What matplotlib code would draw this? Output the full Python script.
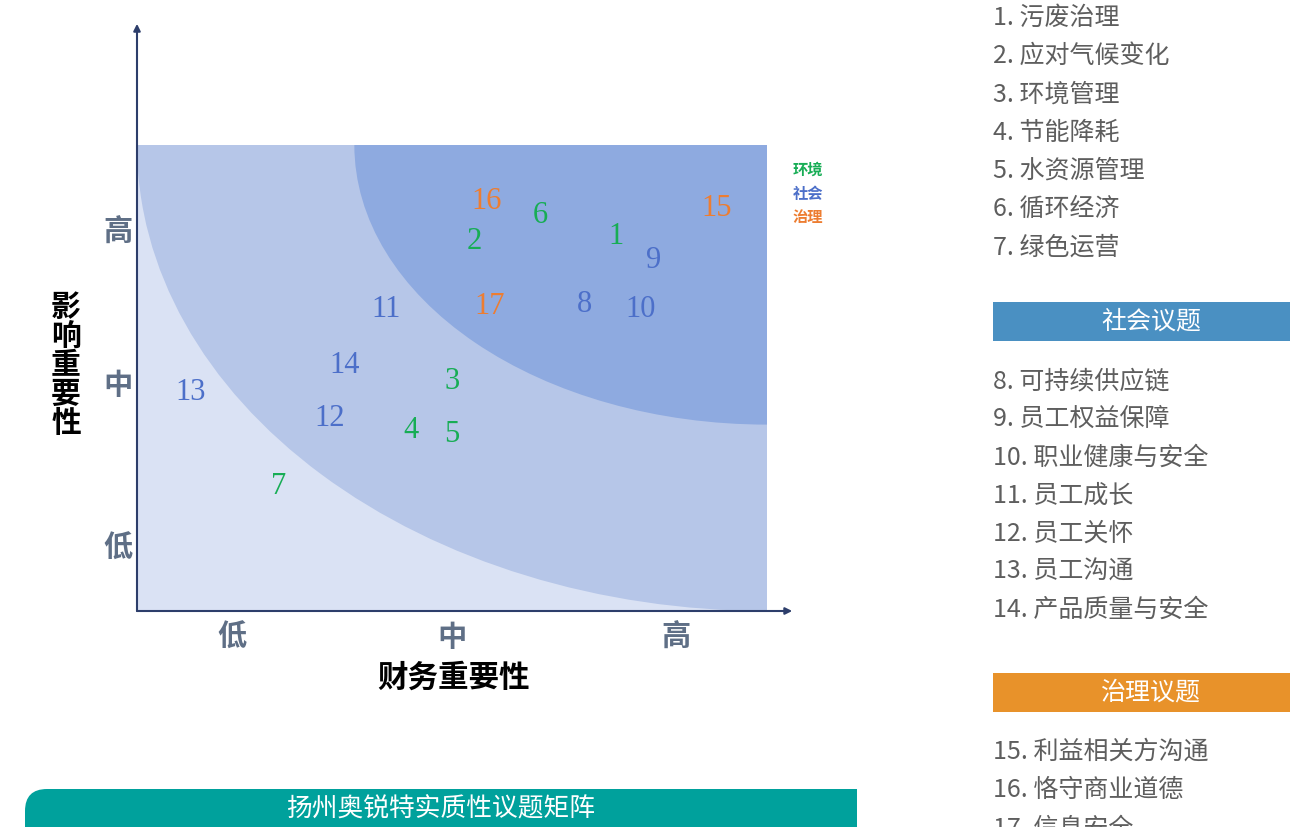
import matplotlib
matplotlib.use("Agg")
import matplotlib.pyplot as plt
from matplotlib.patches import Ellipse, Rectangle, FancyBboxPatch

plt.rcParams['font.family'] = ['Noto Sans CJK SC', 'DejaVu Sans']

W, H = 1290, 828

# ---------------- data ----------------
topic_ids = [str(i) for i in range(1, 18)]
fin_importance = [7.6, 5.35, 5.0, 4.35, 5.0, 6.4, 2.25, 7.1, 8.2, 8.0, 3.95, 3.05, 0.85, 3.3, 9.2, 5.55, 5.6]
impact_importance = [8.05, 7.95, 4.95, 3.9, 3.8, 8.5, 2.7, 6.6, 7.55, 6.5, 6.5, 4.15, 4.7, 5.3, 8.65, 8.8, 6.55]
categories = ['E'] * 7 + ['S'] * 7 + ['G'] * 3
cat_colors = {'E': '#17ad55', 'S': '#4c6fc9', 'G': '#ed7d31'}
legend_labels = ['环境', '社会', '治理']
level_labels = ['低', '中', '高']
x_level_pos = [1.5, 5.0, 8.55]
y_level_pos = [1.37, 4.87, 8.15]

env_topics = ['1. 污废治理', '2. 应对气候变化', '3. 环境管理', '4. 节能降耗', '5. 水资源管理',
              '6. 循环经济', '7. 绿色运营']
soc_topics = ['8. 可持续供应链', '9. 员工权益保障', '10. 职业健康与安全', '11. 员工成长',
              '12. 员工关怀', '13. 员工沟通', '14. 产品质量与安全']
gov_topics = ['15. 利益相关方沟通', '16. 恪守商业道德', '17. 信息安全']
soc_header = '社会议题'
gov_header = '治理议题'
title = '扬州奥锐特实质性议题矩阵'

fig = plt.figure(figsize=(W / 100, H / 100), dpi=100)

def fx(px):
    return px / W

def fy(py):
    return 1 - py / H

# background pixel axes for decorations
ax_bg = fig.add_axes([0, 0, 1, 1], zorder=-1)
ax_bg.set_xlim(0, W)
ax_bg.set_ylim(H, 0)
ax_bg.axis('off')

# ---------------- matrix axes ----------------
ax = fig.add_axes([fx(137), fy(612), (767 - 137) / W, (612 - 146) / H])
ax.set_xlim(0, 10)
ax.set_ylim(0, 10)
ax.axis('off')

ax.add_patch(Rectangle((0, 0), 10, 10, facecolor='#dae2f4', edgecolor='none', zorder=0))
ax.add_patch(Ellipse((10, 10), 20, 20, facecolor='#b6c6e8', edgecolor='none', zorder=1))
ax.add_patch(Ellipse((10, 10), 13.1, 12.0, facecolor='#8eaae0', edgecolor='none', zorder=2))

for tid, xv, yv, c in zip(topic_ids, fin_importance, impact_importance, categories):
    ax.text(xv, yv, tid, color=cat_colors[c], fontsize=22, ha='center', va='center',
            family=['Liberation Serif', 'DejaVu Serif'], zorder=5)

# axis arrows
axis_col = '#2d3e6b'
ax.annotate('', xy=(0, 12.6), xytext=(0, 0), annotation_clip=False,
            arrowprops=dict(arrowstyle='-|>', color=axis_col, lw=1.5, mutation_scale=10,
                            shrinkA=0, shrinkB=0))
ax.annotate('', xy=(10.4, 0), xytext=(0, 0), annotation_clip=False,
            arrowprops=dict(arrowstyle='-|>', color=axis_col, lw=1.5, mutation_scale=10,
                            shrinkA=0, shrinkB=0))

lvl_col = '#5f6f86'
for lab, xp in zip(level_labels, x_level_pos):
    ax.text(xp, -0.53, lab, ha='center', va='center', fontsize=21, fontweight='bold',
            color=lvl_col, clip_on=False)
for lab, yp in zip(level_labels, y_level_pos):
    ax.text(-0.3, yp, lab, ha='center', va='center', fontsize=21, fontweight='bold',
            color=lvl_col, clip_on=False)

# axis titles
fig.text(fx(454), fy(678), '财务重要性', ha='center', va='center', fontsize=22,
         fontweight='bold', color='black')
fig.text(fx(66), fy(365), '\n'.join('影响重要性'), ha='center', va='center', fontsize=21.5,
         fontweight='bold', color='black', linespacing=0.95)

# category legend
for i, (lab, c) in enumerate(zip(legend_labels, ['E', 'S', 'G'])):
    fig.text(fx(808), fy(170 + 23.5 * i), lab, ha='center', va='center', fontsize=11,
             fontweight='bold', color=cat_colors[c])

# ---------------- right-side list ----------------
list_col = '#5e5e5e'
list_fs = 18
for i, t in enumerate(env_topics):
    fig.text(fx(993), fy(18 + 38.2 * i), t, ha='left', va='center', fontsize=list_fs, color=list_col)

ax_bg.add_patch(Rectangle((993, 303), 300, 39, facecolor='#4a90c2', edgecolor='none'))
fig.text(fx(1151), fy(322), soc_header, ha='center', va='center', fontsize=list_fs, color='white')
for i, t in enumerate(soc_topics):
    fig.text(fx(993), fy(381 + 38.2 * i), t, ha='left', va='center', fontsize=list_fs, color=list_col)

ax_bg.add_patch(Rectangle((993, 674), 300, 39, facecolor='#e8922a', edgecolor='none'))
fig.text(fx(1151), fy(693), gov_header, ha='center', va='center', fontsize=list_fs, color='white')
for i, t in enumerate(gov_topics):
    fig.text(fx(993), fy(752 + 38.2 * i), t, ha='left', va='center', fontsize=list_fs, color=list_col)

# ---------------- bottom banner ----------------
ax_bg.add_patch(FancyBboxPatch((25, 790), 832, 80, boxstyle='round,pad=0,rounding_size=22',
                               facecolor='#00a19c', edgecolor='none'))
ax_bg.add_patch(Rectangle((800, 790), 57, 80, facecolor='#00a19c', edgecolor='none'))
fig.text(fx(441), fy(809), title, ha='center', va='center', fontsize=18.5, color='white')

fig.savefig('out.png', dpi=100)
